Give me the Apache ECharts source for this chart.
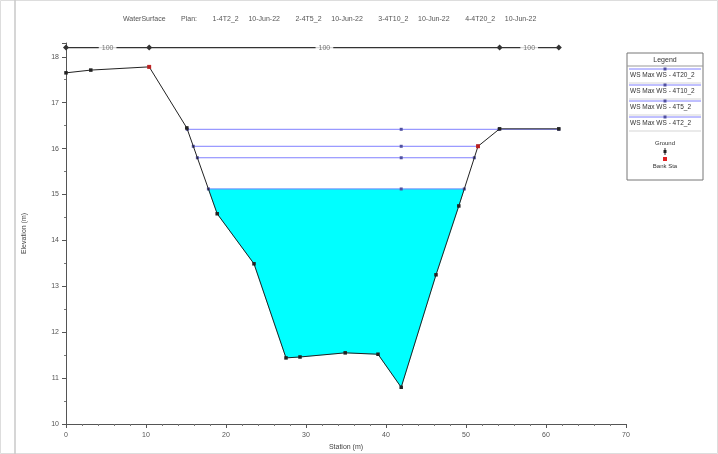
<!DOCTYPE html>
<html>
<head>
<meta charset="utf-8">
<script src="https://cdn.jsdelivr.net/npm/echarts@6/dist/echarts.min.js"></script>
<style>
  html, body { margin: 0; padding: 0; background: #fff; }
  #chart { width: 718px; height: 454px; }
</style>
</head>
<body>
<div id="chart"></div>
<script>
// Cross-section ground profile (station m, elevation m)
const groundStation = [0, 3.1, 10.4, 15.1, 18.9, 23.5, 27.5, 29.25, 34.9, 39.0, 41.9, 46.25, 49.1, 51.5, 54.2, 61.6];
const groundElev    = [17.65, 17.71, 17.78, 16.45, 14.58, 13.49, 11.44, 11.46, 11.55, 11.52, 10.80, 13.25, 14.75, 16.05, 16.43, 16.43];

// Bank stations
const bankStation = [10.4, 51.5];

// Water surface profiles, highest to lowest
const wsNames  = ['WS Max WS - 4T20_2', 'WS Max WS - 4T10_2', 'WS Max WS - 4T5_2', 'WS Max WS - 4T2_2'];
const wsLevels = [16.42, 16.05, 15.80, 15.12];

// Reach length markers along the top of the section
const reachStations = [0, 10.4, 54.2, 61.6];
const reachLabels   = ['100', '100', '100'];

// Axis ticks
const xTicks = [0, 10, 20, 30, 40, 50, 60, 70];
const yTicks = [10, 11, 12, 13, 14, 15, 16, 17, 18];

const titleText = 'WaterSurface        Plan:        1-4T2_2     10-Jun-22        2-4T5_2     10-Jun-22        3-4T10_2     10-Jun-22        4-4T20_2     10-Jun-22';

const ground = groundStation.map((s, i) => [s, groundElev[i]]);
const thalweg = groundElev.indexOf(Math.min(...groundElev));

// Where a level meets the ground on each side of the thalweg
function crossing(level) {
  let l = null, r = null;
  for (let i = thalweg; i > 0; i--) {
    const a = ground[i], b = ground[i - 1];
    if (b[1] >= level) { l = a[0] + (b[0] - a[0]) * (level - a[1]) / (b[1] - a[1]); l = [l, level, i]; break; }
  }
  for (let i = thalweg; i < ground.length - 1; i++) {
    const a = ground[i], b = ground[i + 1];
    if (b[1] >= level) { r = a[0] + (b[0] - a[0]) * (level - a[1]) / (b[1] - a[1]); r = [r, level, i]; break; }
  }
  return [l, r];
}

// Filled area under the lowest water surface
const lowLevel = wsLevels[wsLevels.length - 1];
const [lc, rc] = crossing(lowLevel);
const fillPoly = [[lc[0], lowLevel]];
for (let i = lc[2]; i <= rc[2]; i++) fillPoly.push(ground[i]);
fillPoly.push([rc[0], lowLevel]);

const wsColor = '#8080ff';
const series = [];

series.push({
  type: 'custom',
  name: 'fill',
  silent: true,
  z: 1,
  renderItem: function (params, api) {
    return {
      type: 'polygon',
      shape: { points: fillPoly.map(p => api.coord(p)) },
      style: { fill: '#00ffff', stroke: '#00e8f0', lineWidth: 0.5 }
    };
  },
  data: [0]
});

wsLevels.forEach((lv, k) => {
  const [l, r] = crossing(lv);
  const pts = [[l[0], lv], [groundStation[thalweg], lv], [r[0], lv]];
  if (k === 0) pts.push([groundStation[groundStation.length - 1], lv]);
  series.push({
    type: 'line',
    name: wsNames[k],
    data: pts,
    z: 3,
    symbol: 'rect',
    symbolSize: 3,
    showSymbol: true,
    lineStyle: { color: wsColor, width: 1 },
    itemStyle: { color: '#5050a0' }
  });
});

series.push({
  type: 'line',
  name: 'Ground',
  data: ground,
  z: 4,
  symbol: 'rect',
  symbolSize: 3.5,
  lineStyle: { color: '#222', width: 1 },
  itemStyle: { color: '#222' }
});

series.push({
  type: 'scatter',
  name: 'Bank Sta',
  data: bankStation.map(s => ground[groundStation.indexOf(s)]),
  z: 5,
  symbol: 'rect',
  symbolSize: 4,
  itemStyle: { color: '#e02020' }
});

// Reach lengths bar
const reachY = 18.2;
series.push({
  type: 'line',
  name: 'reach',
  data: reachStations.map(s => [s, reachY]),
  z: 5,
  symbol: 'diamond',
  symbolSize: 6,
  lineStyle: { color: '#333', width: 1.2 },
  itemStyle: { color: '#333' }
});
series.push({
  type: 'scatter',
  name: 'reachLabels',
  data: reachLabels.map((t, i) => ({ value: [(reachStations[i] + reachStations[i + 1]) / 2, reachY], label: { formatter: t } })),
  z: 6,
  symbolSize: 0,
  label: {
    show: true, position: 'inside', fontSize: 7, color: '#555',
    backgroundColor: '#fff', padding: [1, 3], fontFamily: 'Liberation Sans'
  }
});

const chart = echarts.init(document.getElementById('chart'), null, { renderer: 'canvas' });

const legendX = 627, legendY = 53, legendW = 76;
const legendChildren = [
  { type: 'rect', shape: { x: 0, y: 0, width: legendW, height: 127 }, style: { fill: '#fff', stroke: '#777', lineWidth: 1 } },
  { type: 'line', shape: { x1: 0, y1: 13, x2: legendW, y2: 13 }, style: { stroke: '#999', lineWidth: 1 } },
  { type: 'text', x: legendW / 2, y: 7, style: { text: 'Legend', fontSize: 7, fill: '#333', align: 'center', verticalAlign: 'middle', fontFamily: 'Liberation Sans' } }
];
wsNames.forEach((n, k) => {
  const y = 19 + k * 16;
  legendChildren.push({ type: 'line', shape: { x1: 2, y1: y - 3, x2: legendW - 2, y2: y - 3 }, style: { stroke: wsColor, lineWidth: 1 } });
  legendChildren.push({ type: 'rect', shape: { x: legendW / 2 - 1.5, y: y - 4.5, width: 3, height: 3 }, style: { fill: '#5050a0' } });
  legendChildren.push({ type: 'text', x: 3, y: y, style: { text: n, fontSize: 6.5, fill: '#333', fontFamily: 'Liberation Sans', overflow: 'truncate', width: legendW - 4, ellipsis: '' } });
  legendChildren.push({ type: 'line', shape: { x1: 2, y1: y + 11, x2: legendW - 2, y2: y + 11 }, style: { stroke: '#bbb', lineWidth: 0.6 } });
});
legendChildren.push({ type: 'text', x: legendW / 2, y: 87, style: { text: 'Ground', fontSize: 6, fill: '#333', align: 'center', fontFamily: 'Liberation Sans' } });
legendChildren.push({ type: 'line', shape: { x1: legendW / 2, y1: 95, x2: legendW / 2, y2: 102 }, style: { stroke: '#222', lineWidth: 1 } });
legendChildren.push({ type: 'rect', shape: { x: legendW / 2 - 1.5, y: 97, width: 3, height: 3 }, style: { fill: '#222' } });
legendChildren.push({ type: 'rect', shape: { x: legendW / 2 - 2, y: 104, width: 4, height: 4 }, style: { fill: '#e02020' } });
legendChildren.push({ type: 'text', x: legendW / 2, y: 110, style: { text: 'Bank Sta', fontSize: 6, fill: '#333', align: 'center', fontFamily: 'Liberation Sans' } });

chart.setOption({
  animation: false,
  backgroundColor: '#fff',
  title: {
    text: titleText,
    left: 118, top: 11,
    textStyle: { fontSize: 7, fontWeight: 'normal', color: '#555', fontFamily: 'Liberation Sans' }
  },
  grid: { left: 66, right: 92, top: 43, bottom: 30, containLabel: false, outerBoundsMode: 'none' },
  xAxis: {
    type: 'value', min: xTicks[0], max: xTicks[xTicks.length - 1], interval: 10,
    name: 'Station (m)', nameLocation: 'middle', nameGap: 20,
    nameTextStyle: { fontSize: 7, color: '#444', fontFamily: 'Liberation Sans' },
    axisLine: { show: true, lineStyle: { color: '#555', width: 1 } },
    axisTick: { show: true, length: 4, lineStyle: { color: '#555' } },
    minorTick: { show: true, splitNumber: 5, length: 2, lineStyle: { color: '#777' } },
    axisLabel: { fontSize: 7, color: '#555', margin: 8, fontFamily: 'Liberation Sans' },
    splitLine: { show: false }
  },
  yAxis: {
    type: 'value', min: yTicks[0], max: 18.3, interval: 1,
    name: 'Elevation (m)', nameLocation: 'middle', nameGap: 38, nameRotate: 90,
    nameTextStyle: { fontSize: 7, color: '#444', fontFamily: 'Liberation Sans' },
    axisLine: { show: true, lineStyle: { color: '#555', width: 1 } },
    axisTick: { show: true, length: 4, lineStyle: { color: '#555' } },
    minorTick: { show: true, splitNumber: 2, length: 2, lineStyle: { color: '#777' } },
    axisLabel: { fontSize: 7, color: '#555', margin: 7, fontFamily: 'Liberation Sans',
      formatter: v => (yTicks.indexOf(v) >= 0 ? String(v) : '') },
    splitLine: { show: false }
  },
  graphic: [
    { type: 'rect', shape: { x: 0.5, y: 0.5, width: 717, height: 453 }, style: { fill: 'none', stroke: '#ddd', lineWidth: 1 }, silent: true },
    { type: 'line', shape: { x1: 15, y1: 0, x2: 15, y2: 454 }, style: { stroke: '#c8c8c8', lineWidth: 1.5 }, silent: true },
    { type: 'group', x: legendX, y: legendY, children: legendChildren }
  ],
  series: series
});
</script>
</body>
</html>
